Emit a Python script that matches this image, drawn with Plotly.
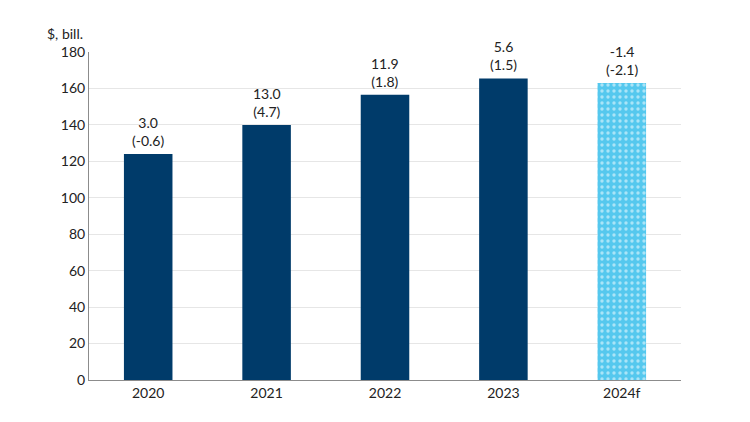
import plotly.graph_objects as go

categories = ["2020", "2021", "2022", "2023", "2024f"]
values = [124, 140, 156.5, 165.5, 163]
growth = ["3.0", "13.0", "11.9", "5.6", "-1.4"]
growth_real = ["(-0.6)", "(4.7)", "(1.8)", "(1.5)", "(-2.1)"]
y_ticks = [0, 20, 40, 60, 80, 100, 120, 140, 160, 180]

dark = "#003B6A"
light = "#55C8EE"

fig = go.Figure()
fig.add_trace(go.Bar(
    x=categories[:4], y=values[:4], marker=dict(color=dark, line=dict(width=0)),
    width=0.41, hoverinfo="skip"))
fig.add_trace(go.Bar(
    x=categories[4:], y=values[4:],
    marker=dict(color=light, line=dict(width=0),
                pattern=dict(shape=".", fgcolor="white", bgcolor=light, size=6, solidity=0.25, fillmode="overlay")),
    width=0.41, hoverinfo="skip"))

for i, (v, g, r) in enumerate(zip(values, growth, growth_real)):
    fig.add_annotation(x=i, y=v, text=f"{g}<br>{r}", showarrow=False, yanchor="bottom",
                       yshift=3, font=dict(size=14, color="#222"), align="center")

fig.add_annotation(x=-0.075, y=1.025, xref="paper", yref="paper", text="$, bill.", showarrow=False,
                   xanchor="left", yanchor="bottom", font=dict(size=14, color="#222"))

fig.update_layout(
    width=750, height=422, barmode="overlay", showlegend=False,
    margin=dict(l=81, r=77, t=44, b=50),
    plot_bgcolor="white", paper_bgcolor="white",
    font=dict(family="Lato, sans-serif", size=14, color="#222"),
    xaxis=dict(type="category", categoryorder="array", categoryarray=categories, showline=True,
               linecolor="#8c8c8c", linewidth=1, ticks="", tickfont=dict(size=14), range=[-0.5, 4.5]),
    yaxis=dict(range=[0, 180], tickvals=y_ticks, showline=True, linecolor="#8c8c8c", linewidth=1,
               showgrid=True, gridcolor="#e6e6e6", zeroline=False, ticks="", tickfont=dict(size=14)),
)

fig.write_html("out.html")
